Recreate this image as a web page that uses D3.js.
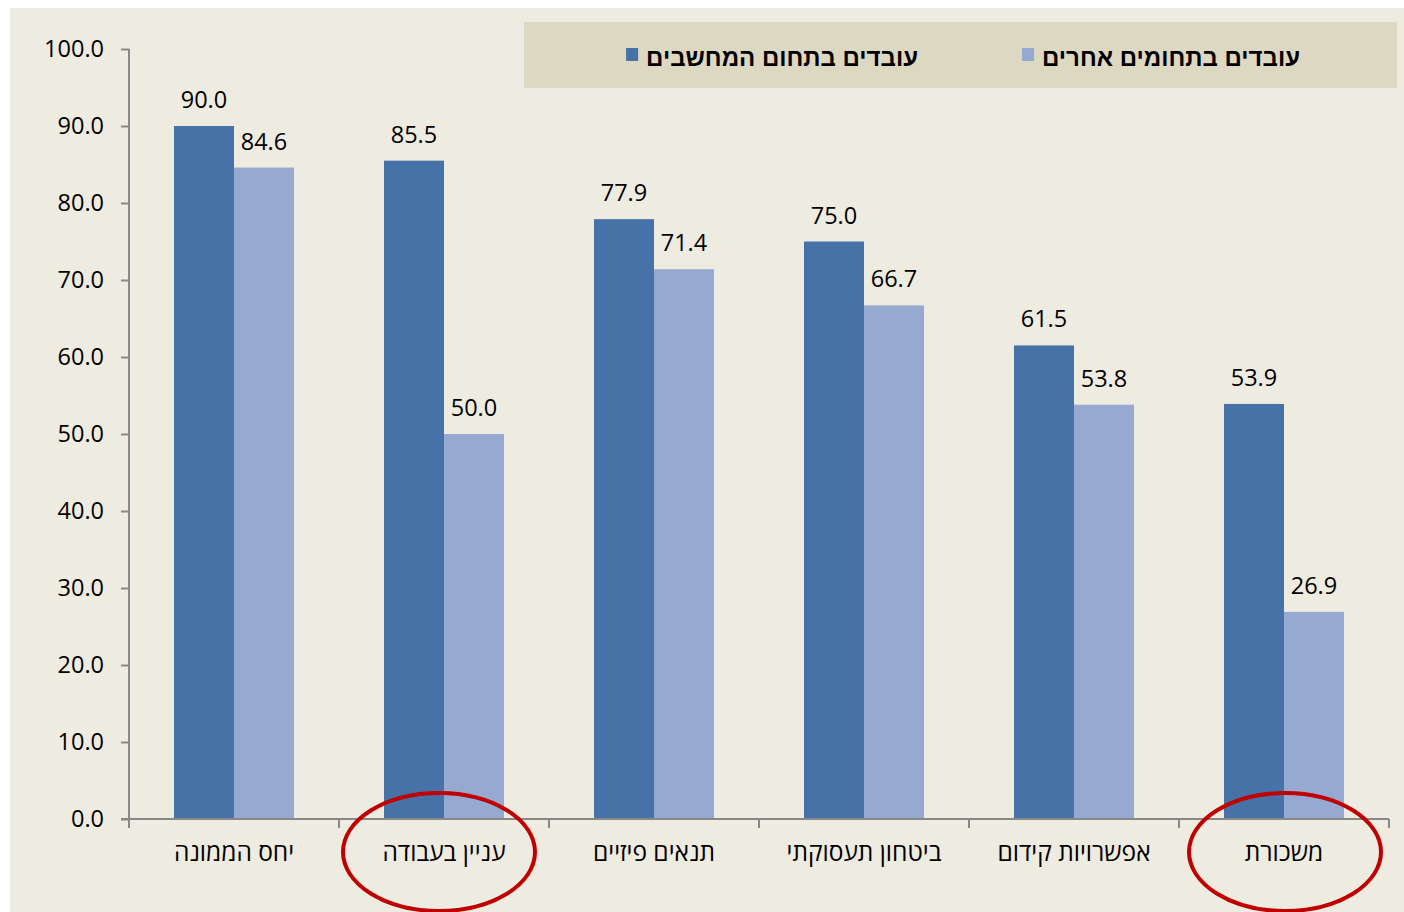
<!DOCTYPE html>
<html><head><meta charset="utf-8">
<script src="https://cdn.jsdelivr.net/npm/d3@7"></script>
<style>body{margin:0;background:#fff;} svg{display:block;}</style>
</head><body>
<svg id="c" width="1404" height="912"></svg>
<script>
const categories = ["יחס הממונה","עניין בעבודה","תנאים פיזיים","ביטחון תעסוקתי","אפשרויות קידום","משכורת"];
const seriesNames = ["עובדים בתחום המחשבים","עובדים בתחומים אחרים"];
const computerValues = [90.0, 85.5, 77.9, 75.0, 61.5, 53.9];
const otherValues = [84.6, 50.0, 71.4, 66.7, 53.8, 26.9];
const yTicks = [0,10,20,30,40,50,60,70,80,90,100];
const circled = ["עניין בעבודה","משכורת"];

const colors = ["#4672A7","#95A9D1"];
const font = "'Open Sans', 'Noto Sans', sans-serif";
const svg = d3.select("#c");
svg.append("rect").attr("x",10).attr("y",8).attr("width",1394).attr("height",904).attr("fill","#EEEBE0");

const m = {l:129, r:1389, t:49, b:819};
const x = d3.scaleBand().domain(categories).range([m.l, m.r]).paddingInner(0).paddingOuter(0);
const x1 = d3.scaleBand().domain([0,1]).range([45, 165]);
const y = d3.scaleLinear().domain([0,100]).range([m.b, m.t]);

// bars
const series = [computerValues, otherValues];
series.forEach((vals, si) => {
  svg.append("g").selectAll("rect").data(vals).join("rect")
    .attr("x",(d,i)=>x(categories[i])+x1(si))
    .attr("y",d=>y(d))
    .attr("width",x1.bandwidth())
    .attr("height",d=>y(0)-y(d))
    .attr("fill",colors[si]);
  svg.append("g").selectAll("text").data(vals).join("text")
    .attr("x",(d,i)=>x(categories[i])+x1(si)+x1.bandwidth()/2)
    .attr("y",d=>y(d)-18)
    .attr("text-anchor","middle")
    .attr("font-family",font).attr("font-size",23.5).attr("fill","#000")
    .text(d=>d.toFixed(1));
});

// y axis
const ya = svg.append("g").attr("transform",`translate(${m.l},0)`)
  .call(d3.axisLeft(y).tickValues(yTicks).tickSize(8).tickPadding(17).tickFormat(d=>d.toFixed(1)));
ya.select(".domain").attr("stroke","#888").attr("stroke-width",2).attr("d",`M-0,${m.t}V${m.b}`);
ya.selectAll(".tick line").attr("stroke","#888").attr("stroke-width",2);
ya.selectAll(".tick text").attr("font-family",font).attr("font-size",23.5).attr("fill","#000");

// x axis
const xa = svg.append("g").attr("transform",`translate(0,${m.b})`)
  .call(d3.axisBottom(x).tickSize(0).tickPadding(25));
xa.select(".domain").attr("stroke","#888").attr("stroke-width",2).attr("d",`M${m.l-8},0H${m.r}`);
xa.selectAll(".tick text").attr("font-family",font).attr("font-size",24.5).attr("fill","#000").attr("direction","rtl").attr("text-anchor","middle");
const bounds = categories.map(c=>x(c)).concat([x(categories[categories.length-1])+x.bandwidth()]);
svg.append("g").selectAll("line").data(bounds).join("line")
  .attr("x1",d=>d).attr("x2",d=>d).attr("y1",m.b).attr("y2",m.b+9)
  .attr("stroke","#888").attr("stroke-width",2);

// legend
svg.append("rect").attr("x",524).attr("y",22).attr("width",873).attr("height",66).attr("fill","#DDD8C2");
const legendRight = [918, 1300];
seriesNames.forEach((n,i)=>{
  const t = svg.append("text").attr("x",legendRight[i]).attr("y",66)
    .attr("direction","rtl").attr("text-anchor","start")
    .attr("font-family","'Liberation Sans', Arial, sans-serif").attr("font-weight","bold").attr("font-size",24)
    .attr("fill","#000").text(n);
  const bb = t.node().getBBox();
  svg.append("rect").attr("x",bb.x-20).attr("y",48).attr("width",12).attr("height",13).attr("fill",colors[i]);
});

// red ellipses
const ellipseShift = [-5, 1];
svg.append("g").selectAll("ellipse").data(circled).join("ellipse")
  .attr("cx",(d,i)=>x(d)+x.bandwidth()/2+ellipseShift[i]).attr("cy",852)
  .attr("rx",96).attr("ry",59)
  .attr("fill","none").attr("stroke","#C00000").attr("stroke-width",4);
</script>
</body></html>
